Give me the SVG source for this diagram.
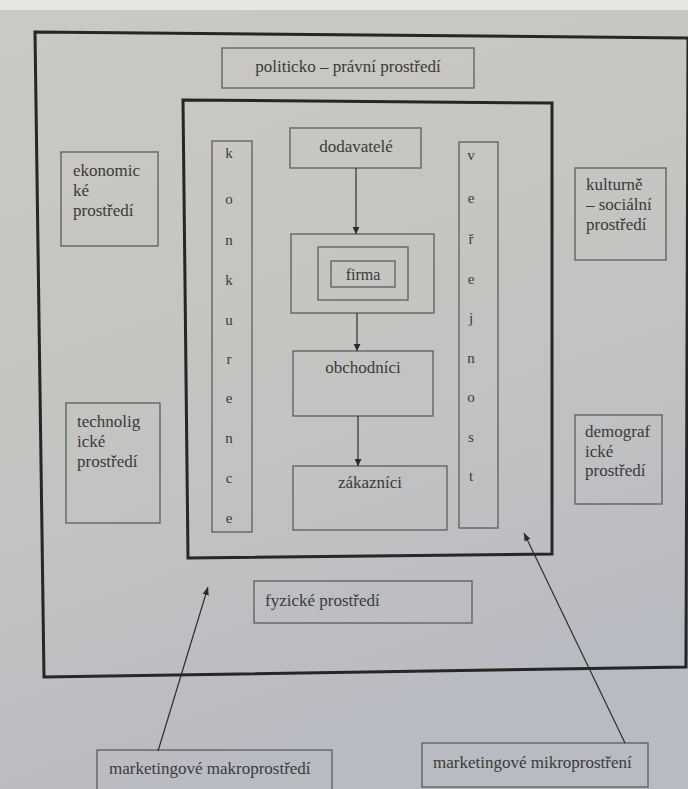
<svg xmlns="http://www.w3.org/2000/svg" width="688" height="789" viewBox="0 0 688 789">
<defs>
<linearGradient id="bg" x1="0" y1="0" x2="0.3" y2="1">
<stop offset="0" stop-color="#cac9c4"/>
<stop offset="0.6" stop-color="#c3c3c1"/>
<stop offset="1" stop-color="#b9bbc2"/>
</linearGradient>
<marker id="ah" viewBox="0 0 10 10" refX="10" refY="5" markerWidth="7" markerHeight="7" markerUnits="userSpaceOnUse" orient="auto">
<path d="M0,0 L10,5 L0,10 z" fill="#2a2a2a"/>
</marker>
<marker id="ah2" viewBox="0 0 10 10" refX="10" refY="5" markerWidth="8" markerHeight="8" markerUnits="userSpaceOnUse" orient="auto">
<path d="M0,1 L10,5 L0,9 z" fill="#2a2a2a"/>
</marker>
</defs>
<style>
.box{fill:none;stroke:#5c5c5c;stroke-width:1.3}
.frame{fill:none;stroke:#262626;stroke-width:3}
text{font-family:'Liberation Serif','DejaVu Serif','Times New Roman',serif;fill:#3a3a3a}
.t{font-size:17px}
.c{text-anchor:middle}
.l{font-size:15px;text-anchor:middle}
.con{stroke:#2e2e2e;stroke-width:1.2;fill:none}
</style>
<rect x="0" y="0" width="688" height="789" fill="url(#bg)"/>
<rect x="0" y="0" width="688" height="10" fill="#e6e6e4"/>

<g id="macro-frame"><polygon class="frame" points="35,32 688,38 686,667 44,677"/></g>
<g id="micro-frame"><polygon class="frame" points="183,100 552,103 552,554 188,558"/></g>

<g id="politicko"><rect class="box" x="222" y="48" width="252" height="40"/><text class="t c" x="348" y="72">politicko – právní prostředí</text></g>

<g id="ekonomicke"><rect class="box" x="61" y="152" width="97" height="94"/>
<text class="t" x="73" y="176">ekonomic</text><text class="t" x="73" y="196">ké</text><text class="t" x="73" y="216">prostředí</text></g>

<g id="kulturne"><rect class="box" x="575" y="168" width="91" height="92"/>
<text class="t" x="586" y="190">kulturně</text><text class="t" x="586" y="210">– sociální</text><text class="t" x="586" y="230">prostředí</text></g>

<g id="technologicke"><rect class="box" x="66" y="403" width="94" height="120"/>
<text class="t" x="77" y="427">technolig</text><text class="t" x="77" y="447">ické</text><text class="t" x="77" y="467">prostředí</text></g>

<g id="demograficke"><rect class="box" x="575" y="415" width="87" height="89"/>
<text class="t" x="585" y="437">demograf</text><text class="t" x="585" y="457">ické</text><text class="t" x="585" y="476">prostředí</text></g>

<g id="fyzicke"><rect class="box" x="254" y="581" width="218" height="42"/><text class="t" x="265" y="606">fyzické prostředí</text></g>

<g id="konkurence"><rect class="box" x="212" y="141" width="40" height="391"/>
<text class="l" x="229" y="158">k</text><text class="l" x="229" y="204">o</text><text class="l" x="229" y="245">n</text><text class="l" x="229" y="285">k</text><text class="l" x="229" y="325">u</text><text class="l" x="229" y="364">r</text><text class="l" x="229" y="403">e</text><text class="l" x="229" y="443">n</text><text class="l" x="229" y="483">c</text><text class="l" x="229" y="523">e</text></g>

<g id="verejnost"><rect class="box" x="459" y="142" width="39" height="386"/>
<text class="l" x="471" y="160">v</text><text class="l" x="471" y="203">e</text><text class="l" x="471" y="244">ř</text><text class="l" x="471" y="284">e</text><text class="l" x="471" y="323">j</text><text class="l" x="471" y="363">n</text><text class="l" x="471" y="402">o</text><text class="l" x="471" y="442">s</text><text class="l" x="471" y="481">t</text></g>

<g id="dodavatele"><rect class="box" x="290" y="128" width="131" height="40"/><text class="t c" x="356" y="152">dodavatelé</text></g>

<g id="firma"><rect class="box" x="291" y="234" width="143" height="79"/><rect class="box" x="318" y="247" width="90" height="53"/><rect class="box" x="331" y="261" width="64" height="26"/><text class="t c" x="363" y="280" style="font-size:16px">firma</text></g>

<g id="obchodnici"><rect class="box" x="293" y="351" width="140" height="65"/><text class="t c" x="363" y="373">obchodníci</text></g>

<g id="zakaznici"><rect class="box" x="293" y="466" width="154" height="64"/><text class="t c" x="370" y="488">zákazníci</text></g>

<g id="makro"><rect class="box" x="97" y="750" width="235" height="40"/><text class="t" x="109" y="774">marketingové makroprostředí</text></g>

<g id="mikro"><rect class="box" x="422" y="743" width="226" height="44"/><text class="t" x="433" y="768">marketingové mikroprostření</text></g>

<g id="connectors">
<line class="con" x1="356" y1="168" x2="356" y2="234" marker-end="url(#ah)"/>
<line class="con" x1="357" y1="313" x2="357" y2="351" marker-end="url(#ah)"/>
<line class="con" x1="358" y1="416" x2="358" y2="466" marker-end="url(#ah)"/>
<line class="con" x1="158" y1="751" x2="208" y2="587" marker-end="url(#ah2)"/>
<line class="con" x1="625" y1="743" x2="524" y2="533" marker-end="url(#ah2)"/>
</g>
</svg>
